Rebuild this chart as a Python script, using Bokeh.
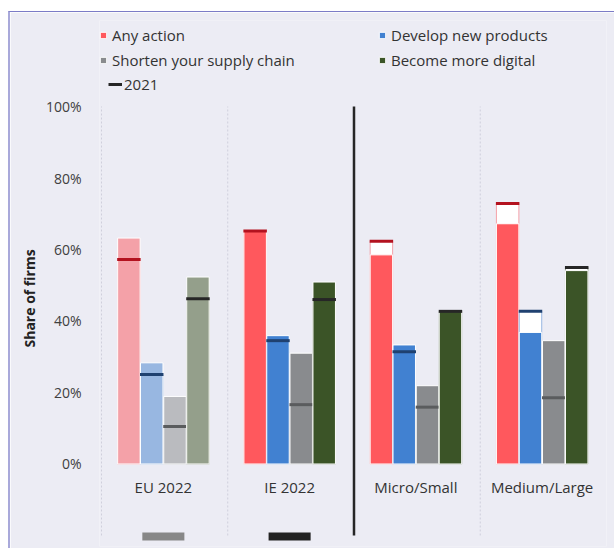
from bokeh.plotting import figure
from bokeh.models import (Range1d, FixedTicker, PrintfTickFormatter, Legend, LegendItem, Title,
                          ColumnDataSource)
from bokeh.core.properties import value
from bokeh.embed import file_html
from bokeh.resources import INLINE

# ---------------- data ----------------
categories = ["EU 2022", "IE 2022", "Micro/Small", "Medium/Large"]
series_names = ["Any action", "Develop new products", "Shorten your supply chain", "Become more digital"]

any_action_2022 = [63.2, 65.3, 58.5, 67.2]
any_action_2021 = [57.2, 65.2, 62.3, 72.9]
new_products_2022 = [28.3, 35.9, 33.3, 36.8]
new_products_2021 = [25.0, 34.5, 31.4, 42.7]
supply_chain_2022 = [18.9, 31.0, 21.9, 34.5]
supply_chain_2021 = [10.5, 16.6, 15.9, 18.5]
digital_2022 = [52.3, 50.9, 42.9, 54.1]
digital_2021 = [46.2, 46.0, 42.7, 55.0]

y_ticks = [0, 20, 40, 60, 80, 100]
footer_colors = ["#878787", "#222222"]  # small marks under first two groups

# ---------------- style ----------------
FONT = "Open Sans"
BG = "#ECECF4"
full_colors = ["#FF585D", "#4181D1", "#898B8E", "#3B5427"]
faded_colors = ["#F4A1A8", "#98B7E1", "#BABBBF", "#949F8B"]
marker_colors = ["#B3121F", "#1F4170", "#5A5C5E", "#262626"]
offsets = [-0.283, -0.102, 0.082, 0.264]
bw = 0.178

p = figure(width=606, height=537, x_range=Range1d(-0.0158, 4), y_range=Range1d(-23.08, 124.06),
           output_backend="svg", toolbar_location=None, x_axis_location=None,
           min_border_left=89, min_border_right=10, min_border_top=8, min_border_bottom=3,
           background_fill_color=BG, border_fill_color=BG, outline_line_color=None)
p.styles = {"margin-left": "8px", "margin-top": "11px",
            "border-left": "2px solid #A9A9DA", "border-top": "1px solid #7B7BC6"}
p.xgrid.visible = False
p.ygrid.visible = False

ax = p.yaxis[0]
ax.ticker = FixedTicker(ticks=y_ticks)
ax.formatter = PrintfTickFormatter(format="%d%%")
ax.axis_line_color = None
ax.major_tick_line_color = None
ax.minor_tick_line_color = None
ax.major_tick_out = 0
ax.major_label_standoff = 18
ax.major_label_text_font = FONT
ax.major_label_text_font_size = "14px"
ax.major_label_text_color = "#404040"

ylabel = Title(text="Share of firms", align="left", offset=199, vertical_align="bottom",
               standoff=8, text_font=FONT, text_font_style="bold", text_font_size="14px",
               text_color="#222222")
p.add_layout(ylabel, "left")

# separators between groups
n = len(categories)
split = 2
dotted_x = [i for i in range(n) if i != split]
p.segment(x0=dotted_x, y0=[-20] * len(dotted_x), x1=dotted_x, y1=[100] * len(dotted_x),
          line_color="#CFCFDC", line_width=1, line_dash="2 2")
p.segment(x0=[split], y0=[-20], x1=[split], y1=[100], line_color="#262626", line_width=2.5)

vals22 = [any_action_2022, new_products_2022, supply_chain_2022, digital_2022]
vals21 = [any_action_2021, new_products_2021, supply_chain_2021, digital_2021]

legend_renderers = []
for s in range(4):
    xs = [i + 0.5 + offsets[s] for i in range(n)]
    # 2021 outline bars (white)
    p.vbar(x=xs, top=vals21[s], bottom=0, width=bw, fill_color="white",
           line_color=faded_colors[s], line_width=1)
    # EU 2022 (faded)
    p.vbar(x=xs[:1], top=vals22[s][:1], bottom=0, width=bw, fill_color=faded_colors[s],
           line_color="white", line_width=1)
    # other groups (full)
    r = p.vbar(x=xs[1:], top=vals22[s][1:], bottom=0, width=bw, fill_color=full_colors[s],
               line_color="white", line_width=1)
    legend_renderers.append(r)
    # 2021 markers
    p.rect(x=xs, y=vals21[s], width=bw + 0.008, height=3, height_units="screen",
           fill_color=marker_colors[s], line_color=None)

# category labels
p.text(x=[i + 0.49 for i in range(n)], y=[-6.5] * n, text=categories,
       text_align="center", text_baseline="middle", text_font=value(FONT),
       text_font_size="15px", text_color="#333333")

# small footer marks
p.rect(x=[i + 0.49 for i in range(len(footer_colors))], y=[-20.3] * len(footer_colors),
       width=0.333, height=8, height_units="screen", fill_color=footer_colors, line_color=None)

def style_legend(lg):
    lg.background_fill_alpha = 0
    lg.border_line_color = None
    lg.padding = 0
    lg.margin = 0
    lg.spacing = 5
    lg.label_text_font = FONT
    lg.label_text_font_size = "15px"
    lg.label_text_color = "#333333"
    lg.label_height = 20

leg1 = Legend(items=[LegendItem(label=series_names[s], renderers=[legend_renderers[s]]) for s in range(4)],
              orientation="horizontal", ncols=2, location=(0, 476))
style_legend(leg1)
leg1.glyph_width = 8
leg1.glyph_height = 8
leg1.label_standoff = 5
leg1.label_width = 261
p.add_layout(leg1, "center")

# line renderer (kept outside the visible ranges) used only for the "2021" legend glyph
proxy_src = ColumnDataSource(data=dict(x=[-5.0, -4.0], y=[-50.0, -50.0]))
proxy = p.line(x="x", y="y", source=proxy_src, line_color="#262626", line_width=3)

leg2 = Legend(items=[LegendItem(label="2021", renderers=[proxy])], location=(9, 452))
style_legend(leg2)
leg2.glyph_width = 14
leg2.glyph_height = 8
leg2.label_standoff = 2
p.add_layout(leg2, "center")

open("out.html", "w").write(file_html(p, INLINE))
